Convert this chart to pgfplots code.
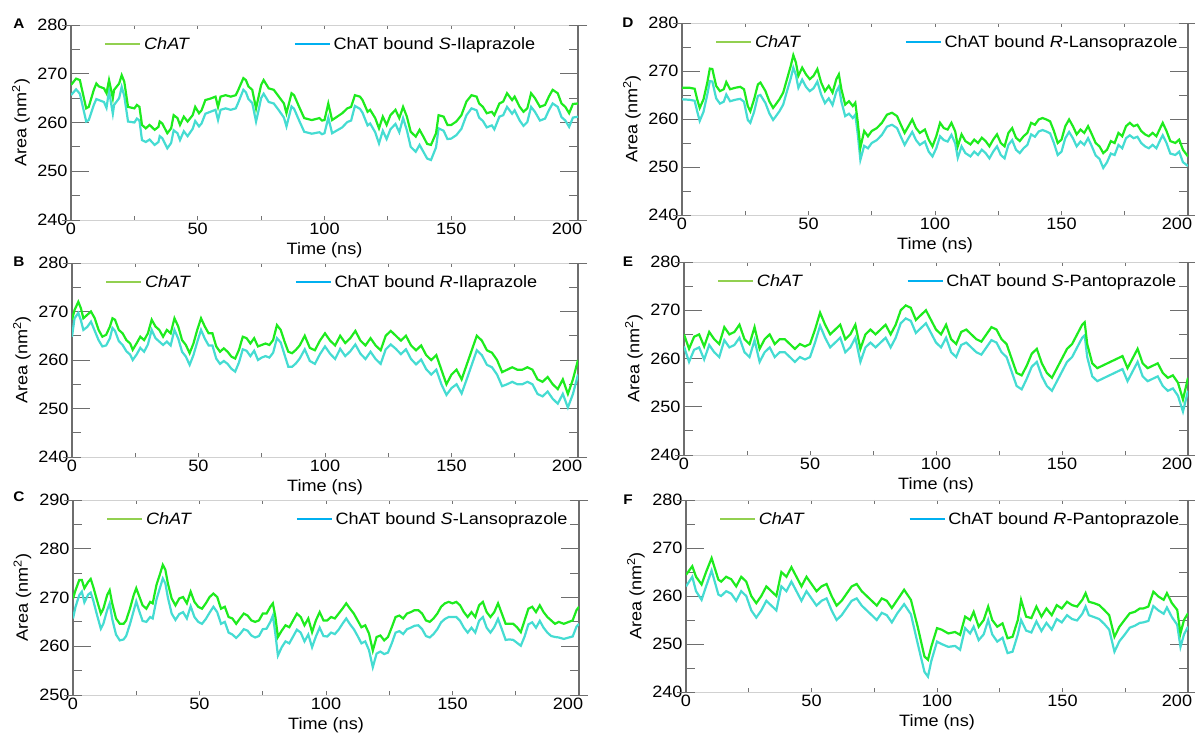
\documentclass[border=0pt]{standalone}
\usepackage{fontspec}
\setmainfont{Liberation Sans}[FakeStretch=1.1]
\usepackage{pgfplots}
\usepackage{pgfplotstable}
\pgfplotsset{compat=1.18}

\definecolor{gline}{HTML}{1EEB1E}
\definecolor{cline}{HTML}{45DCD2}
\definecolor{glegend}{HTML}{92D050}
\definecolor{clegend}{HTML}{00B0F0}
\definecolor{axgray}{HTML}{6E6E6E}

\pgfplotstableread{
t g c
0 267.7 265.6
2 269.0 266.8
3.5 268.7 265.9
6 262.9 260.2
7 263.2 260.5
9 266.7 263.6
10 268.0 264.8
11 267.4 264.6
13 267.0 264.2
14 266.0 263.0
15 268.7 266.5
16.5 265.0 261.8
17 266.7 263.6
19 268.0 265.0
20 269.7 267.3
21 268.4 265.5
22.5 263.2 260.2
25 262.9 260.0
26 263.6 260.8
27 263.2 260.4
28 259.5 256.4
29.5 258.8 256.0
31 259.5 256.5
33 258.5 255.4
34.5 259.1 256.0
35 260.2 257.2
36 259.8 256.8
38 257.8 254.7
39.5 258.8 255.8
40.5 261.5 258.4
42 260.9 257.8
43 259.5 256.4
44.5 261.2 258.2
46 260.2 257.2
48 261.5 258.7
49 263.2 260.3
50.5 261.9 259.2
51.5 262.5 259.8
53 264.6 261.8
55 264.9 262.2
57 265.3 262.6
58 263.2 260.5
59 265.3 262.6
61 265.6 262.9
63 265.3 262.6
65 265.6 262.9
66 266.7 264.1
68 269.1 266.7
69 268.7 266.2
70 267.4 264.8
71.5 266.7 264.0
73 262.9 260.2
74 265.3 262.5
75 267.7 265.0
76 268.7 265.9
78 267.0 264.2
80 266.7 263.9
82 265.3 262.5
84 263.9 261.0
85 261.9 259.2
87 266.0 263.3
88 265.6 262.8
90 263.2 260.4
92 260.9 258.1
95 260.5 257.7
98 260.9 258.0
99 260.4 257.6
100 260.5 257.8
101.5 263.9 261.0
103 260.5 257.8
105 261.2 258.4
107 261.9 259.0
109 262.9 260.1
110.5 263.2 260.4
112 265.6 263.4
114 265.3 262.8
115 264.6 262.0
117 262.2 259.4
118 262.6 259.8
120 260.9 258.0
121.5 258.8 255.7
123 261.2 258.3
124.5 259.5 256.6
126 261.5 258.6
128 262.6 259.7
129.5 260.9 258.0
131 263.2 260.9
132.5 261.2 258.4
134 258.1 255.0
136 257.1 254.0
137.5 258.5 255.4
139 257.1 254.0
140.5 255.6 252.6
142 255.4 252.3
144 257.8 254.9
145 261.5 258.8
147 261.2 258.3
148.5 259.5 256.6
150 259.5 256.7
152 260.2 257.4
154 261.5 258.7
156 264.3 261.5
158 265.6 262.9
160 265.3 262.5
161 263.9 261.0
162.5 263.2 260.3
164 261.9 259.0
166 262.2 259.4
167 261.5 258.6
169 263.9 261.2
170.5 264.3 261.5
172 266.0 263.2
174 264.6 261.8
175 265.3 262.5
177 263.2 260.4
178.5 262.2 259.3
180 262.9 260.1
181.5 266.0 263.2
183 265.0 262.2
185 263.2 260.4
187 263.6 260.8
188.5 265.3 262.5
190 266.7 263.9
192 266.0 263.2
193.5 263.9 261.1
195 263.2 260.4
196.5 261.9 259.1
198 263.8 261.0
200 263.9 261.2
}\tabA

\pgfplotstableread{
t g c
0 268.3 264.8
1 270.3 268.6
2.5 272.0 269.7
3.5 270.7 268.2
4.5 268.6 266.2
6 269.3 266.8
7.5 270.0 267.9
9 268.6 266.0
10.5 266.2 264.1
12 264.8 262.8
13.5 265.2 263.0
15 266.9 264.5
16 268.6 266.6
17 268.3 266.0
18.5 266.2 263.9
20 265.5 263.1
21.5 264.1 261.8
23 263.4 261.1
24 262.1 260.0
25.5 263.4 261.1
27 264.8 262.5
28.5 264.1 261.7
30 265.5 263.2
31.5 268.3 266.2
33 266.9 264.5
34.5 266.2 263.8
36 264.8 263.1
37.5 266.2 263.8
39 265.5 263.0
40.5 268.6 266.2
42 266.9 264.4
43.5 264.1 261.7
45 263.1 260.7
46.5 261.4 259.0
48 263.4 261.0
49.5 266.2 263.7
51 268.6 266.2
52.5 266.9 264.4
54 265.5 263.0
55.5 265.5 263.0
57 262.8 260.3
58.5 261.7 259.2
60 262.4 259.8
61.5 261.7 259.2
63 260.7 258.2
64.5 260.3 257.6
66 262.1 259.5
67.5 264.8 262.2
69 264.5 261.9
70.5 263.4 260.8
72 264.5 261.9
73.5 262.8 260.0
75 263.1 260.5
76.5 263.4 260.8
78 263.1 260.5
79.5 264.1 261.5
81 267.2 264.5
82.5 266.2 263.6
84 263.8 261.1
85.5 261.7 258.6
87 261.4 258.6
88.5 262.1 259.3
90 263 260.3
92 265 262.2
94 262.5 259.8
96 262 259.2
98 264 261.2
100 265.5 262.8
102 264 261.3
104 263 260.2
106 265 262.3
108 263.5 260.8
110 264.5 261.8
112 266 263.2
114 264 261.3
116 263 260.2
118 264.5 261.7
120 263 260.2
122 262 259.2
124 265 262.2
126 266 263.2
128 265 262.3
130 264 261.2
132 265 262.2
134 263 260.2
136 262 259.1
138 263 260.1
140 261 258.1
142 260 257.0
144 261 258.0
146 258 255.0
148 255 252.8
150 257 254.2
152 258 255.0
154 256 253.1
156 259 256.0
158 262 259.0
160 265 262.0
162 264 261.0
164 262 259.0
166 261.5 258.5
168 260 257.0
170 257.5 254.6
172 258 255.0
174 258.5 255.5
176 258 255.0
178 258 255.0
180 258.5 255.5
182 258 255.0
184 256 253.0
186 255.5 252.5
188 256.5 253.5
190 255 252.0
192 254 251.0
194 256 253.0
196 253 250.2
198 256 253.0
200 260 257.0
}\tabB

\pgfplotstableread{
t g c
0 269.8 265.7
1 271.5 268.1
2.5 273.6 270.5
3.5 273.6 271.2
4.5 271.9 269.0
6 273.2 270.6
7 273.8 271.0
8 272.2 269.4
9.5 269.4 266.4
11 266.7 263.6
12 267.7 264.6
13.5 270.5 267.4
14.5 271.5 268.8
15.5 268.8 265.6
17 265.7 262.4
18.5 264.6 261.2
20 264.6 261.4
21 265.3 262.1
22.5 267.7 264.5
24 270.5 267.3
25 271.9 269.2
26 270.5 267.5
27.5 268.4 265.2
29 267.7 265.0
30.5 269.1 266.0
31.5 268.8 265.7
33 272.6 269.6
34.5 275.0 272.2
35.5 276.7 273.9
36.5 275.7 272.9
37.5 272.9 270.0
39 269.8 266.7
40.5 268.4 265.4
42 269.8 266.6
43.5 270.1 267.0
45 268.8 265.7
46.5 271.2 268.2
48 269.1 266.0
49.5 268.1 265.0
51 267.7 264.6
52.5 268.8 265.6
54 270.1 266.9
55.5 270.8 268.1
57 270.1 267.0
58.5 267.7 264.6
60 268.1 265.0
61.5 266.0 262.8
63 265.7 262.4
64.5 264.6 261.7
66 265.7 262.5
67.5 266.7 263.5
69 266.3 263.2
70.5 265.3 262.2
72 265.0 261.8
73.5 265.3 262.1
75 266.7 263.5
76.5 266.7 263.6
78 268.1 265.0
79 268.8 266.3
80 266.0 262.5
81 261.9 258.1
82.5 263.2 259.8
84 264.3 261.0
85.5 263.9 260.6
87 265.3 262.0
88.5 266.7 263.4
90 266.0 262.8
91.5 264.3 261.0
93 265.7 262.4
94.5 262.9 259.8
96 265.3 262.0
97.5 267.0 263.8
99 265.3 262.1
100.5 265.3 262.0
102 266.0 262.8
103.5 265.7 262.5
105 266.7 263.4
106.5 267.7 264.6
108 268.8 265.7
109.5 267.7 264.5
111 266.7 263.5
112.5 265.3 262.1
114 263.9 260.6
115.5 264.3 261.0
117 262.6 259.2
118.5 259.1 255.7
120 261.9 258.5
121.5 262.2 258.9
123 261.2 258.4
124.5 261.9 258.7
126 263.9 260.6
127.5 266.0 262.8
129 266.3 263.1
130.5 265.7 262.5
132 266.7 263.5
133.5 267.0 263.8
135 267.4 264.2
136.5 267.4 264.3
138 266.7 263.5
139.5 265.3 262.1
141 265.0 261.8
142.5 265.7 262.5
144 266.7 263.5
145.5 268.1 264.9
147 268.8 265.6
148.5 269.1 266.0
150 268.8 266.0
151.5 269.1 266.0
153 268.4 265.2
154.5 267.0 263.8
156 266.0 262.8
157.5 267.0 263.8
159 266.0 262.8
160.5 268.4 265.2
162 269.1 266.0
163.5 267.0 263.8
165 266.0 262.8
166.5 267.0 263.9
168 268.8 265.6
169.5 266.7 263.5
171 264.6 261.3
172.5 264.6 261.4
174 264.6 261.3
175.5 263.9 260.7
177 262.9 260.1
178.5 265.3 262.0
180 267.7 264.5
181.5 268.1 264.9
183 267.0 263.8
184.5 268.4 265.2
186 267.0 263.8
187.5 266.0 262.8
189 265.3 262.1
190.5 264.6 261.9
192 265.0 261.8
194 264.6 261.5
196 265.0 261.8
197.5 265.3 262.0
199 267.4 264.0
200 268.1 264.6
}\tabC

\pgfplotstableread{
t g c
0 266.5 264.1
3 266.5 264.0
5 266.3 263.8
6 264.1 261.6
7 262.3 259.6
8.5 264.1 261.5
10 267.6 265.1
11 270.5 267.9
12 270.4 267.8
13.5 266.9 264.3
15 265.8 263.2
16.5 266.2 263.6
17.5 267.7 265.1
19 266.2 263.7
21 266.5 264.0
23 266.7 264.2
24.5 266.2 263.6
26 262.7 259.8
27 261.6 259.2
28.5 264.1 261.5
30 267.2 264.8
31 267.6 265.0
33 265.8 263.3
34.5 263.7 261.2
36 262.3 259.8
37 263.0 260.5
38.5 264.1 261.6
40 265.5 263.0
41.5 268.3 265.8
43 271.1 268.5
44 273.3 270.7
45 271.8 269.2
46 269.0 266.5
47.5 270.7 268.2
49 269.3 266.7
50.5 268.3 265.8
52 269.0 266.4
53.5 270.4 267.8
55 267.6 265.1
56.5 265.8 263.3
58 266.9 264.3
59.5 265.5 262.9
61 268.3 265.7
62 269.3 266.7
63 266.2 263.6
64.5 263.0 260.6
66 263.7 261.1
67.5 262.7 260.2
68.5 263.4 260.9
69.5 259.2 256.7
70.5 254.0 251.5
72 257.5 254.4
73.5 256.4 253.9
75 257.5 255.0
77 258.1 255.6
79 259.2 256.7
81 260.9 258.4
83 261.3 258.8
85 260.6 258.1
86.5 258.8 256.3
88 257.1 254.6
89.5 258.5 256.0
91 259.9 257.3
92.5 258.1 255.6
94 257.1 254.6
96 257.8 255.3
97.5 255.7 253.2
99 254.3 252.2
100.5 256.4 253.9
102 259.2 256.4
103.5 258.1 255.6
105 257.8 255.3
106.5 259.2 256.7
108 257.4 254.9
109 254.3 251.9
110.5 256.8 254.3
112 255.4 252.9
114 254.7 252.2
115.5 255.7 253.2
117 255.0 252.5
118.5 256.1 253.6
120 255.4 252.9
121.5 254.3 251.8
123 255.7 253.2
124.5 256.8 254.3
126 255.0 252.5
127.5 254.3 251.8
129 257.1 254.6
130.5 258.1 255.6
132 256.1 253.6
133.5 255.4 252.9
135 256.4 253.9
136.5 257.1 254.6
138 259.2 256.8
139.5 258.8 256.3
141 259.9 257.4
142.5 260.2 257.7
144 259.9 257.4
145.5 259.5 257.0
147 257.5 255.0
148.5 255.0 252.5
150 255.7 253.2
151.5 258.5 256.0
153 259.9 257.3
154.5 258.5 256.0
156 256.8 254.3
157.5 257.8 255.3
159 257.1 254.6
160.5 258.5 256.0
162 256.8 254.3
163.5 255.0 252.4
165 254.3 251.7
166.5 252.9 249.8
168 253.6 251.0
169.5 255.4 252.8
171 255.0 252.5
172.5 257.1 254.6
174 256.4 253.9
175.5 258.5 256.0
177 259.2 256.6
178.5 258.5 256.0
180 258.8 256.3
181.5 257.5 255.0
183 256.8 254.3
184.5 256.4 253.9
186 257.1 254.6
187.5 256.4 253.9
189 258.1 255.6
190 259.2 256.6
191.5 257.5 255.0
193 255.4 252.8
195 255.0 252.5
196.5 255.7 253.2
198 253.6 251.0
200 252.2 250.2
}\tabD

\pgfplotstableread{
t g c
0 265 262.5
2 262 259.3
4 264.5 261.8
6 265 262.3
8 262.5 259.8
10 265.5 262.8
12 264 261.3
14 263 260.3
16 266.5 263.8
18 265 262.3
20 265.5 262.8
22 267 264.3
24 264 261.3
26 263 260.3
28 266.5 263.8
30 262 259.3
32 264 261.3
34 265 262.3
36 263 260.3
38 264 261.3
40 264 261.3
42 263 260.3
44 262 259.3
46 263 260.3
48 262.5 259.8
50 263 260.3
52 266 263.3
54 269.5 266.8
56 267 264.3
58 265 262.3
60 266 263.3
62 267 264.3
64 264 261.3
66 265 262.3
68 267 264.3
70 262 259.3
72 265 262.3
74 266 263.3
76 265 262.3
78 266 263.3
80 267 264.3
82 265 262.3
84 267 264.3
86 270 267.3
88 271 268.3
90 270.5 267.8
92 268 265.3
94 269 266.3
96 270 267.3
98 268 265.3
100 266 263.3
102 265 262.3
104 267 264.3
106 264 261.3
108 263 260.3
110 265.5 262.8
112 266 263.3
114 265 262.3
116 264 261.3
118 263.5 260.8
120 265 262.3
122 266.5 263.8
124 266 263.3
126 264 261.3
128 263 260.3
130 260 257.3
132 257 254.3
134 256.5 253.6
136 258.5 255.8
138 261 258.3
140 262 259.3
142 259 256.3
144 257 254.3
146 256 253.3
148 258 255.3
150 260 257.3
152 262 259.3
154 263 260.3
156 265 262.3
158 267 264.3
159 267.5 264.8
160 263 260.3
162 259 256.3
164 258 255.3
166 258.5 255.8
168 259 256.3
170 259.5 256.8
172 260 257.3
174 260.5 257.8
176 258 255.3
178 260 257.3
180 262 259.3
182 259 256.3
184 258 255.3
186 258.5 255.8
188 259 256.3
190 257 254.3
192 256 253.3
194 256.5 253.8
196 255 252.3
198 251.5 249.0
200 256 253.3
}\tabE

\pgfplotstableread{
t g c
0 264.4 262.0
2.5 266.2 264.0
4 264.0 261.0
6.2 262.4 259.2
8 265.0 262.0
10.2 267.9 265.3
12.9 263.4 260.3
14 263 260
16 264 261
18 263.5 260.5
20 262 259
22 264 261
24 263 260
26 260 257
28 258.5 255.5
30 260 257
32 262 259
34 261 258
36 260 257
38 265 262
40 264 261
42 266 263
44 264 261
46 262 259
48 264 261
50 262.5 259.5
52 261 258
54 262 259
56 262.5 259.5
58 260 257
60 258 255
62 259 256
64 260.5 257.5
66 262 259
68 262.5 259.5
70 261 258
72 260 257
74 259 256
76 258 255
78 259.5 256.5
80 259 256
82 257.5 254.5
84.2 259.2 256.4
86.9 261.3 258.3
89.6 259.2 256.2
92.3 253.6 250.1
95 247.4 244.2
96.4 246.7 243.2
97.7 249.4 246.4
100 253.3 250.5
101.8 253.0 250.0
104.5 252.2 249.4
107.2 252.5 249.6
109.2 251.9 248.8
111.2 255.7 253.3
113.2 255.0 252.2
114.6 256.7 253.6
116.6 253.6 250.8
118.6 255.0 252.0
120.4 257.8 255.0
122 255.0 252.0
124 253.6 250.5
126.1 254.3 251.3
128.1 251.2 248.1
130.1 251.5 248.4
132.2 255.0 252.0
133.5 259.2 255.0
135.5 255.7 252.8
137.6 255.4 252.4
139.6 257.8 254.7
141.6 255.7 252.7
143.6 257.4 254.4
145.7 256.0 253.0
147.7 258.1 255.2
149.7 257.4 254.5
151.8 258.8 256.0
153.8 258.1 255.2
155.8 257.8 254.9
157.9 259.2 256.3
159.2 260.6 257.8
160.5 258.8 256.0
162.6 258.5 255.6
164.6 258.1 255.2
166.6 257.1 254.2
168.6 256.0 253.0
170.7 251.5 248.4
172.7 253.6 250.6
174.7 255.0 251.9
176.8 256.4 253.4
178.8 256.7 253.8
180.8 257.4 254.4
182.2 257.4 254.5
184.2 257.8 254.8
186.2 260.9 257.9
188.2 259.9 257.0
190.3 259.2 256.3
191.6 260.6 257.6
193.6 258.5 255.6
195.7 257.1 254.0
197 252.2 249.4
198.4 255.0 252.0
200 256.4 253.6
}\tabF

\newcommand{\fs}{\fontsize{16.5}{19}\selectfont}

\pgfplotsset{
  panel/.style={
    scale only axis, anchor=south west,
    xmin=0, xmax=200,
    xtick={0,50,100,150,200}, minor xtick={25,75,125,175},
    xticklabels={0,50,100,150,{\hspace*{-22bp}200}},
    separate axis lines,
    x axis line style={draw=black!18, line width=0.6bp},
    y axis line style={draw=axgray, line width=2bp},
    tick align=inside,
    xtick style={draw=black!55, line width=0.8bp, /pgfplots/major tick length=4bp, /pgfplots/minor tick length=4bp},
    ytick style={draw=axgray, line width=0.9bp, /pgfplots/major tick length=18bp, /pgfplots/minor tick length=9bp},
    tick label style={font=\fs},
    /pgf/number format/assume math mode=true,
    label style={font=\fs},
    xlabel={Time (ns)},
    ylabel={Area (nm\textsuperscript{2})},
    legend columns=2,
    legend style={draw=none, fill=none, at={(rel axis cs:0.065,0.902)}, anchor=west,
      inner sep=0pt, font=\fs, nodes={inner sep=2.5bp},
      /tikz/every even column/.append style={column sep=101bp}},
    legend image code/.code={\draw[##1, line width=2.5bp] (0bp,0bp) -- (35bp,0bp);},
    extra y tick labels={},
    extra y tick style={tick align=center, /pgfplots/major tick length=9bp, line width=2.2bp, draw=black!80},
  },
  r1/.style={ymin=240, ymax=280, ytick={240,250,...,280}, minor ytick={245,255,265,275}, extra y ticks={240,280}},
  r2/.style={ymin=250, ymax=290, ytick={250,260,...,290}, minor ytick={255,265,275,285}, extra y ticks={250,290}},
  gstyle/.style={gline, line width=2.2bp, forget plot},
  cstyle/.style={cline, line width=2.2bp, forget plot},
}

\begin{document}
\begin{tikzpicture}
\useasboundingbox (0,0) rectangle (1195bp,733bp);

% A
\begin{axis}[panel, r1, at={(71bp,513bp)}, width=507bp, height=195bp,
  xlabel style={at={(axis description cs:0.5,-0.154)}, anchor=center},
  ylabel style={at={(axis description cs:-0.0986,0.5)}, anchor=center}]
\addlegendimage{glegend}\addlegendentry{\textit{ChAT}}
\addlegendimage{clegend}\addlegendentry{ChAT bound \textit{S}-Ilaprazole}
\addplot[cstyle] table[x=t,y=c]{\tabA};
\addplot[gstyle] table[x=t,y=g]{\tabA};
\end{axis}

% B
\begin{axis}[panel, r1, at={(72bp,276bp)}, width=506bp, height=194bp,
  xlabel style={at={(axis description cs:0.5,-0.155)}, anchor=center},
  ylabel style={at={(axis description cs:-0.0988,0.5)}, anchor=center}]
\addlegendimage{glegend}\addlegendentry{\textit{ChAT}}
\addlegendimage{clegend}\addlegendentry{ChAT bound \textit{R}-Ilaprazole}
\addplot[cstyle] table[x=t,y=c]{\tabB};
\addplot[gstyle] table[x=t,y=g]{\tabB};
\end{axis}

% C
\begin{axis}[panel, r2, at={(73bp,38bp)}, width=506bp, height=195bp,
  xlabel style={at={(axis description cs:0.5,-0.154)}, anchor=center},
  ylabel style={at={(axis description cs:-0.1,0.5)}, anchor=center}]
\addlegendimage{glegend}\addlegendentry{\textit{ChAT}}
\addlegendimage{clegend}\addlegendentry{ChAT bound \textit{S}-Lansoprazole}
\addplot[cstyle] table[x=t,y=c]{\tabC};
\addplot[gstyle] table[x=t,y=g]{\tabC};
\end{axis}

% D
\begin{axis}[panel, r1, at={(682bp,518bp)}, width=506bp, height=192bp,
  xlabel style={at={(axis description cs:0.5,-0.156)}, anchor=center},
  ylabel style={at={(axis description cs:-0.0988,0.5)}, anchor=center}]
\addlegendimage{glegend}\addlegendentry{\textit{ChAT}}
\addlegendimage{clegend}\addlegendentry{ChAT bound \textit{R}-Lansoprazole}
\addplot[cstyle] table[x=t,y=c]{\tabD};
\addplot[gstyle] table[x=t,y=g]{\tabD};
\end{axis}

% E
\begin{axis}[panel, r1, at={(684bp,278bp)}, width=504bp, height=193bp,
  xlabel style={at={(axis description cs:0.5,-0.155)}, anchor=center},
  ylabel style={at={(axis description cs:-0.0992,0.5)}, anchor=center}]
\addlegendimage{glegend}\addlegendentry{\textit{ChAT}}
\addlegendimage{clegend}\addlegendentry{ChAT bound \textit{S}-Pantoprazole}
\addplot[cstyle] table[x=t,y=c]{\tabE};
\addplot[gstyle] table[x=t,y=g]{\tabE};
\end{axis}

% F
\begin{axis}[panel, r1, at={(686bp,41bp)}, width=502bp, height=192bp,
  xlabel style={at={(axis description cs:0.5,-0.156)}, anchor=center},
  ylabel style={at={(axis description cs:-0.0996,0.5)}, anchor=center}]
\addlegendimage{glegend}\addlegendentry{\textit{ChAT}}
\addlegendimage{clegend}\addlegendentry{ChAT bound \textit{R}-Pantoprazole}
\addplot[cstyle] table[x=t,y=c]{\tabF};
\addplot[gstyle] table[x=t,y=g]{\tabF};
\end{axis}

\node[font=\bfseries\fontsize{14}{14}\selectfont] at (19bp,709bp) {A};
\node[font=\bfseries\fontsize{14}{14}\selectfont] at (19bp,471bp) {B};
\node[font=\bfseries\fontsize{14}{14}\selectfont] at (19bp,236bp) {C};
\node[font=\bfseries\fontsize{14}{14}\selectfont] at (628bp,710bp) {D};
\node[font=\bfseries\fontsize{14}{14}\selectfont] at (628bp,471bp) {E};
\node[font=\bfseries\fontsize{14}{14}\selectfont] at (628bp,233bp) {F};
\end{tikzpicture}
\end{document}
